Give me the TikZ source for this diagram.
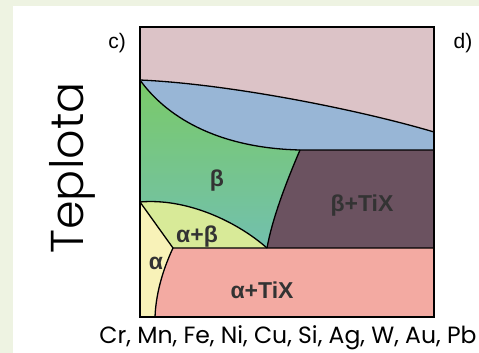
\documentclass[tikz,border=0pt]{standalone}
\usepackage{fontspec}
\setmainfont{Liberation Sans}
\newfontfamily\geo{Poppins Light}
\newfontfamily\geob{Poppins}
\definecolor{bgout}{HTML}{EEF3E2}
\definecolor{toppink}{HTML}{DCC3C7}
\definecolor{lensblue}{HTML}{98B6D6}
\definecolor{betagreen}{HTML}{7ACA68}
\definecolor{betateal}{HTML}{72C0AE}
\definecolor{btix}{HTML}{6B5260}
\definecolor{atix}{HTML}{F3AAA2}
\definecolor{alphay}{HTML}{F8F2B8}
\definecolor{abeta}{HTML}{D8EA98}
\tikzset{
  bound/.style={draw=black, line width=1.3pt},
  phase/.style={font=\fontsize{23}{23}\selectfont\bfseries, text=black!80, inner sep=0pt},
  tag/.style={font=\fontsize{21}{21}\selectfont, inner sep=0pt}
}
\begin{document}
\begin{tikzpicture}[x=1pt,y=-1pt]
\useasboundingbox (0,0) rectangle (479,353);
\fill[bgout] (0,0) rectangle (479,353);
\fill[white] (13,6) rectangle (479,353);
% corners
\coordinate (TL) at (140,27);
\coordinate (TR) at (434,27);
\coordinate (BR) at (434,317);
\coordinate (BL) at (140,317);
\coordinate (L1) at (140,80);
\coordinate (R1) at (434,132);
\coordinate (R2) at (434,150);
\coordinate (M1) at (300,150);
\coordinate (M2) at (267,248);
\coordinate (L2) at (140,202);
\coordinate (A1) at (173,248);
\coordinate (R3) at (434,248);
\coordinate (B1) at (155,317);
% regions
\fill[toppink] (TL) -- (TR) -- (R1) .. controls (360,110) and (230,84) .. (L1) -- cycle;
\fill[lensblue] (L1) .. controls (230,84) and (360,110) .. (R1) -- (R2) -- (M1) .. controls (215,148) and (165,115) .. (L1) -- cycle;
\fill[top color=betagreen, bottom color=betateal] (L1) .. controls (165,115) and (215,148) .. (M1) .. controls (285,185) and (272,220) .. (M2) .. controls (235,220) and (185,198) .. (L2) -- cycle;
\fill[btix] (M1) -- (R2) -- (R3) -- (M2) .. controls (272,220) and (285,185) .. (M1) -- cycle;
\fill[abeta] (L2) .. controls (185,198) and (235,220) .. (M2) -- (A1) -- cycle;
\fill[alphay] (L2) -- (A1) .. controls (165,265) and (156,290) .. (B1) -- (BL) -- cycle;
\fill[atix] (A1) -- (R3) -- (BR) -- (B1) .. controls (156,290) and (165,265) .. (A1) -- cycle;
% boundaries
\draw[bound] (L1) .. controls (230,84) and (360,110) .. (R1);
\draw[bound] (L1) .. controls (165,115) and (215,148) .. (M1) -- (R2);
\draw[bound] (M1) .. controls (285,185) and (272,220) .. (M2);
\draw[bound] (L2) .. controls (185,198) and (235,220) .. (M2);
\draw[bound] (L2) -- (A1) -- (R3);
\draw[bound] (A1) .. controls (165,265) and (156,290) .. (B1);
\draw[bound] (TL) -- (TR) -- (BR) -- (BL) -- cycle;
% labels
\node[phase] (lb) at (217,181) {β};
\node[phase] (lab) at (197,237) {α+β};
\node[phase] (la) at (156,263) {α};
\node[phase] (latix) at (262,290) {α+TiX};
\node[phase] (lbtix) at (362,206) {β+TiX};
\node[tag] (c) at (117,43) {c)};
\node[tag] (d) at (463,43) {d)};
\node[font=\geo\fontsize{46}{46}\selectfont, rotate=90, inner sep=0pt] (t) at (72,168) {Teplota};
\node[font=\geob\fontsize{23.5}{23.5}\selectfont, inner sep=0pt] (x) at (288,338) {Cr, Mn, Fe, Ni, Cu, Si, Ag, W, Au, Pb};
\end{tikzpicture}
\end{document}
